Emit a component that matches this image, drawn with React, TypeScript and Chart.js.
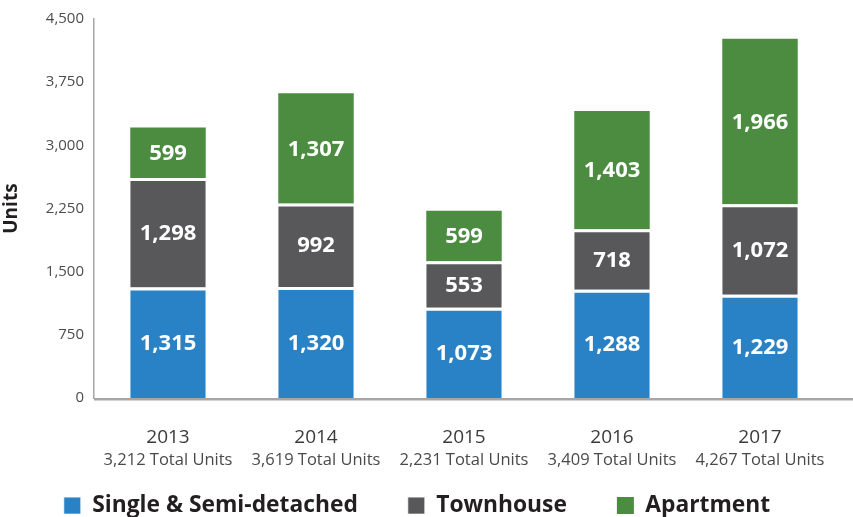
import React, { useEffect, useRef } from "react";
import { Chart, registerables } from "chart.js";

Chart.register(...registerables);

const years = ["2013", "2014", "2015", "2016", "2017"];
const totalLabels = ["3,212 Total Units", "3,619 Total Units", "2,231 Total Units", "3,409 Total Units", "4,267 Total Units"];
const singleSemi = [1315, 1320, 1073, 1288, 1229];
const townhouse = [1298, 992, 553, 718, 1072];
const apartment = [599, 1307, 599, 1403, 1966];
const yTicks = [0, 750, 1500, 2250, 3000, 3750, 4500];

const FONT = "'Open Sans', 'Noto Sans', sans-serif";

const labelsPlugin = {
  id: "customLabels",
  afterDatasetsDraw(chart: any) {
    const ctx = chart.ctx;
    ctx.save();
    ctx.fillStyle = "#ffffff";
    ctx.font = `bold 22px ${FONT}`;
    ctx.textAlign = "center";
    ctx.textBaseline = "middle";
    chart.data.datasets.forEach((ds: any, di: number) => {
      const meta = chart.getDatasetMeta(di);
      meta.data.forEach((bar: any, i: number) => {
        const v = ds.data[i];
        const yMid = (bar.y + bar.base) / 2;
        ctx.fillText(v.toLocaleString("en-US"), bar.x, yMid + 1);
      });
    });
    ctx.restore();
  },
  afterDraw(chart: any) {
    const ctx = chart.ctx;
    const xs = chart.scales.x;
    const area = chart.chartArea;
    ctx.save();
    ctx.strokeStyle = "#a6a6a6";
    ctx.lineWidth = 2.5;
    ctx.beginPath();
    ctx.moveTo(area.left, area.bottom + 1);
    ctx.lineTo(chart.width, area.bottom + 1);
    ctx.stroke();
    ctx.textAlign = "center";
    ctx.textBaseline = "middle";
    years.forEach((y, i) => {
      const x = xs.getPixelForValue(i);
      ctx.fillStyle = "#3a3a3a";
      ctx.font = `19px ${FONT}`;
      ctx.fillText(y, x, 438);
      ctx.font = `16.5px ${FONT}`;
      ctx.fillStyle = "#4a4a4a";
      ctx.fillText(totalLabels[i], x, 460);
    });
    ctx.restore();
  },
};

export default function App() {
  const ref = useRef<HTMLCanvasElement>(null);
  useEffect(() => {
    if (!ref.current) return;
    const common = { categoryPercentage: 1, barPercentage: 0.51 };
    const chart = new Chart(ref.current, {
      type: "bar",
      data: {
        labels: years,
        datasets: [
          {
            label: "Single & Semi-detached",
            data: singleSemi,
            backgroundColor: "#2a82c6",
            borderColor: "#ffffff",
            borderWidth: { top: 3, bottom: 0, left: 0, right: 0 },
            borderSkipped: false,
            ...common,
          },
          {
            label: "Townhouse",
            data: townhouse,
            backgroundColor: "#58585a",
            borderColor: "#ffffff",
            borderWidth: { top: 3, bottom: 0, left: 0, right: 0 },
            borderSkipped: false,
            ...common,
          },
          {
            label: "Apartment",
            data: apartment,
            backgroundColor: "#4c8c40",
            borderWidth: 0,
            ...common,
          },
        ],
      },
      options: {
        animation: false,
        responsive: false,
        maintainAspectRatio: false,
        layout: { padding: { top: 17, right: 19, left: 0, bottom: -10 } },
        plugins: {
          tooltip: { enabled: false },
          legend: {
            position: "bottom",
            labels: {
              boxWidth: 17,
              boxHeight: 17,
              padding: 50,
              color: "#231f20",
              font: { family: FONT, size: 22.8, weight: "bold" },
            },
          },
        },
        scales: {
          x: {
            stacked: true,
            grid: { display: false, drawTicks: false },
            border: { display: false },
            ticks: { display: false },
            afterFit(scale: any) {
              scale.height = 46;
            },
          } as any,
          y: {
            stacked: true,
            min: 0,
            max: 4500,
            afterBuildTicks(scale: any) {
              scale.ticks = yTicks.map((v) => ({ value: v }));
            },
            afterFit(scale: any) {
              scale.width = 94;
            },
            grid: { display: false, drawTicks: false },
            border: { display: true, color: "#a6a6a6", width: 1.5 },
            ticks: {
              color: "#4d4d4d",
              padding: 10,
              font: { family: FONT, size: 15 },
              callback: (v: any) => Number(v).toLocaleString("en-US"),
            },
            title: {
              display: true,
              text: "Units",
              color: "#231f20",
              font: { family: FONT, size: 19, weight: "bold" },
              padding: 0,
            },
          },
        },
      } as any,
      plugins: [labelsPlugin],
    });
    return () => chart.destroy();
  }, []);
  return (
    <div style={{ position: "fixed", left: 0, top: 0, width: 853, height: 517, background: "#fff" }}>
      <canvas ref={ref} width={853} height={517} style={{ width: 853, height: 517 }} />
    </div>
  );
}
